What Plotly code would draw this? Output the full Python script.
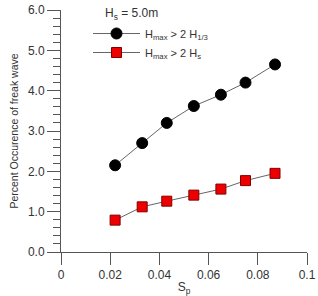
import plotly.graph_objects as go

steepness = [0.022, 0.033, 0.043, 0.054, 0.065, 0.075, 0.087]
pct_h13 = [2.15, 2.70, 3.20, 3.62, 3.90, 4.20, 4.65]
pct_hs = [0.79, 1.12, 1.26, 1.41, 1.56, 1.77, 1.95]
y_ticks = [0, 1, 2, 3, 4, 5, 6]
x_ticks = [0, 0.02, 0.04, 0.06, 0.08, 0.1]
x_tick_text = ["0", "0.02", "0.04", "0.06", "0.08", "0.1"]
legend_title = "H<sub>s</sub> = 5.0m"

FONT = "Liberation Sans, Arial, sans-serif"
TXT = "#333333"

fig = go.Figure()
fig.add_trace(go.Scatter(
    x=steepness, y=pct_h13, mode="lines+markers",
    name="H<sub>max</sub> > 2 H<sub>1/3</sub>",
    line=dict(color="#666666", width=1),
    marker=dict(symbol="circle", size=11, color="black", line=dict(color="black", width=1)),
    cliponaxis=False,
))
fig.add_trace(go.Scatter(
    x=steepness, y=pct_hs, mode="lines+markers",
    name="H<sub>max</sub> > 2 H<sub>s</sub>",
    line=dict(color="#666666", width=1),
    marker=dict(symbol="square", size=10, color="#ee0000", line=dict(color="#800000", width=1)),
    cliponaxis=False,
))

fig.add_annotation(
    text=legend_title, xref="paper", yref="paper",
    x=(103 - 61) / 246, y=(252 - 14) / 242, xanchor="left", yanchor="middle",
    showarrow=False, font=dict(size=12, color=TXT),
)

fig.update_layout(
    width=318, height=296,
    margin=dict(l=61, r=11, t=10, b=44, autoexpand=False),
    paper_bgcolor="white", plot_bgcolor="white",
    font=dict(family=FONT, size=12, color=TXT),
    showlegend=True,
    legend=dict(
        x=(88 - 61) / 246, y=(252 - 19) / 242, xanchor="left", yanchor="top",
        bgcolor="rgba(0,0,0,0)", borderwidth=0,
        font=dict(size=11, color=TXT),
        itemwidth=47, tracegroupgap=0,
    ),
    xaxis=dict(
        range=[0, 0.1], tickvals=x_ticks, ticktext=x_tick_text,
        showgrid=False, zeroline=False, automargin=False,
        showline=True, linecolor="#555555", linewidth=1,
        ticks="outside", ticklen=12, tickcolor="#555555", tickwidth=1,
        tickfont=dict(size=12, color=TXT),
        title=dict(text="S<sub>p</sub>", font=dict(size=12, color=TXT), standoff=2),
    ),
    yaxis=dict(
        range=[0, 6], tickvals=y_ticks, tickformat=".1f",
        showgrid=False, zeroline=False, automargin=False,
        showline=True, linecolor="#555555", linewidth=1,
        ticks="outside", ticklen=13, tickcolor="#555555", tickwidth=1,
        minor=dict(dtick=0.2, ticks="outside", ticklen=7, tickcolor="#555555", tickwidth=1, showgrid=False),
        tickfont=dict(size=12, color=TXT),
        title=dict(text="Percent Occurence of freak wave", font=dict(size=10.5, color=TXT), standoff=7),
    ),
)

fig.write_html("out.html")
